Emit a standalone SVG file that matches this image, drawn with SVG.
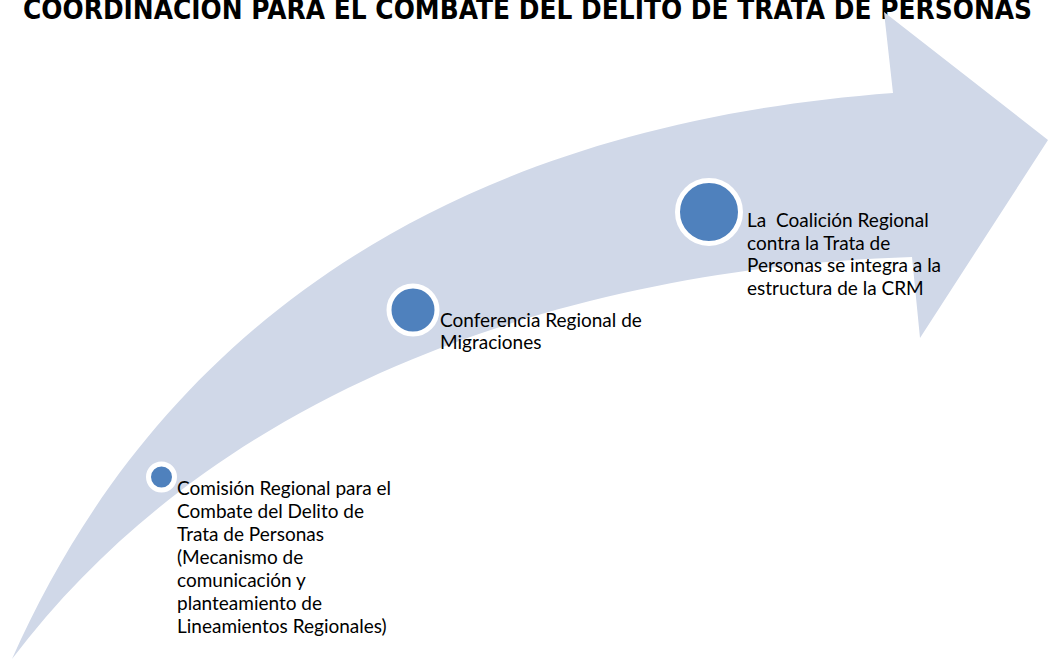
<svg xmlns="http://www.w3.org/2000/svg" width="1048" height="659" viewBox="0 0 1048 659">
<style>
.title{font-family:"DejaVu Sans","Liberation Sans",sans-serif;font-weight:bold;font-size:29px;fill:#000}
.lbl{font-family:Lato,"Liberation Sans",sans-serif;font-size:19px;fill:#000;white-space:pre}
.dot{fill:#4F81BD;stroke:#FFFFFF}
</style>
<rect width="1048" height="659" fill="#FFFFFF"/>
<text class="title" x="23" y="19" textLength="1009" lengthAdjust="spacingAndGlyphs">COORDINACIÓN PARA EL COMBATE DEL DELITO DE TRATA DE PERSONAS</text>
<g id="connectors">
<path id="arrow" d="M12,659 C140,370 400,130 893,93 L884,12 L1048,140 L920,338 L912,257 C650,265 250,345 12,659 Z" fill="#D0D8E8"/>
</g>
<g id="node1">
<circle class="dot" cx="161.5" cy="477" r="13" stroke-width="5"/>
<text class="lbl" x="177" y="495">Comisión Regional para el</text>
<text class="lbl" x="177" y="518">Combate del Delito de</text>
<text class="lbl" x="177" y="541">Trata de Personas</text>
<text class="lbl" x="177" y="564">(Mecanismo de</text>
<text class="lbl" x="177" y="587">comunicación y</text>
<text class="lbl" x="177" y="610">planteamiento de</text>
<text class="lbl" x="177" y="633">Lineamientos Regionales)</text>
</g>
<g id="node2">
<circle class="dot" cx="413" cy="310" r="24" stroke-width="5"/>
<text class="lbl" x="440" y="327">Conferencia Regional de</text>
<text class="lbl" x="440" y="349">Migraciones</text>
</g>
<g id="node3">
<circle class="dot" cx="709" cy="212" r="31.5" stroke-width="5"/>
<text class="lbl" x="747" y="227">La  Coalición Regional</text>
<text class="lbl" x="747" y="250">contra la Trata de</text>
<text class="lbl" x="747" y="272">Personas se integra a la</text>
<text class="lbl" x="747" y="295">estructura de la CRM</text>
</g>
</svg>
